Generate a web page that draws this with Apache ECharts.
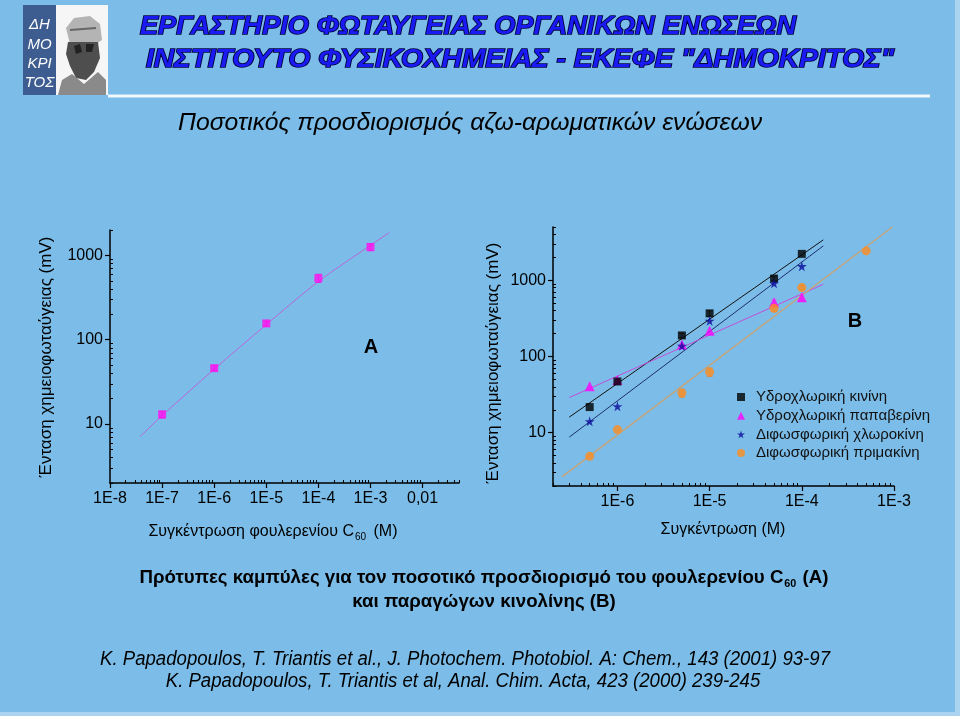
<!DOCTYPE html>
<html><head><meta charset="utf-8">
<script src="https://cdn.jsdelivr.net/npm/echarts@6/dist/echarts.min.js"></script>
<style>html,body{margin:0;padding:0;background:#7bbde8}#c{width:960px;height:716px}</style>
</head><body><div id="c"></div>
<script>
// ---------- DATA ----------
// Chart A : C60 calibration
const concA = [1e-7, 1e-6, 1e-5, 1e-4, 1e-3];
const signalA = [13, 46, 156, 537, 1255];
const errA = [1.2, 3, 10, 60, 120];
const fitAx = [3.8e-8, 1e-7, 1e-6, 1e-5, 1e-4, 1e-3, 2.3e-3];
const fitAy = [7.1, 12.6, 44.7, 151, 490, 1318, 1862];
const xTicksA = [1e-8, 1e-7, 1e-6, 1e-5, 1e-4, 1e-3, 1e-2];
const xLabelsA = ['1E-8', '1E-7', '1E-6', '1E-5', '1E-4', '1E-3', '0,01'];
const yTicksA = [10, 100, 1000];
const yLabelsA = ['10', '100', '1000'];

// Chart B : quinoline derivatives
const concB = [5e-7, 1e-6, 5e-6, 1e-5, 5e-5, 1e-4];
const quinine = [21.7, 47, 189, 368, 1053, 2220];
const papaverine = [40.6, 49, 144, 217, 514, 597];
const chloroquine = [14.1, 22.2, 138, 294, 913, 1528];
const concPrim = [5e-7, 1e-6, 5e-6, 1e-5, 5e-5, 1e-4, 5e-4];
const primaquine = [4.9, 11.0, 33.2, 62.6, 428, 802, 2430];
const errQuinine = [0, 0, 12, 30, 70, 0];
const errPapaverine = [0, 0, 0, 0, 40, 60];
const errPrim = [0, 0, 4, 8, 40, 50, 0];
const fitQx = [3e-7, 1.71e-4], fitQy = [16, 3390];
const fitCx = [3e-7, 1.71e-4], fitCy = [8.75, 2826];
const fitPx = [3e-7, 1.71e-4], fitPy = [28.9, 885];
const fitMx = [2.5e-7, 9.6e-4], fitMy = [2.64, 5000];
const xTicksB = [1e-6, 1e-5, 1e-4, 1e-3];
const xLabelsB = ['1E-6', '1E-5', '1E-4', '1E-3'];
const yTicksB = [10, 100, 1000];
const yLabelsB = ['10', '100', '1000'];
const namesB = ['Υδροχλωρική κινίνη', 'Υδροχλωρική παπαβερίνη', 'Διφωσφωρική χλωροκίνη', 'Διφωσφωρική πριμακίνη'];

// ---------- HELPERS ----------
const FONT = '"Liberation Sans", Arial, sans-serif';
const STAR = 'path://M50,0 L61,35 L98,35 L68,57 L79,91 L50,70 L21,91 L32,57 L2,35 L39,35 Z';
const measCtx = document.createElement('canvas').getContext('2d');
function squeeze(text, weight, style, size, target) {
  measCtx.font = style + ' ' + weight + ' ' + size + 'px ' + FONT;
  return target / measCtx.measureText(text).width;
}
function minorTicks(minExp, maxVal) {
  const out = [];
  for (let e = minExp; e < 5; e++) for (let m = 2; m <= 9; m++) {
    const v = m * Math.pow(10, e);
    if (v > maxVal * 1.0001) return out;
    out.push(v);
  }
  return out;
}
function fmt(ticks, labels) {
  return function (v) {
    for (let i = 0; i < ticks.length; i++) if (Math.abs(Math.log10(ticks[i]) - Math.log10(v)) < 1e-6) return labels[i];
    return '';
  };
}
function pairs(xs, ys) { return xs.map((x, i) => [x, ys[i]]); }
function errData(xs, ys, es) { return xs.map((x, i) => [x, ys[i] - es[i], ys[i] + es[i]]).filter((d, i) => es[i] > 0); }
function errRender(color) {
  return function (params, api) {
    const x = api.value(0);
    const p1 = api.coord([x, api.value(1)]), p2 = api.coord([x, api.value(2)]);
    const w = 3;
    const st = { stroke: color, lineWidth: 1 };
    return { type: 'group', children: [
      { type: 'line', shape: { x1: p1[0], y1: p1[1], x2: p2[0], y2: p2[1] }, style: st },
      { type: 'line', shape: { x1: p1[0] - w, y1: p1[1], x2: p1[0] + w, y2: p1[1] }, style: st },
      { type: 'line', shape: { x1: p2[0] - w, y1: p2[1], x2: p2[0] + w, y2: p2[1] }, style: st }
    ] };
  };
}
function majorAxis(gridIndex, min, max, ticks, labels, isX) {
  return {
    type: 'log', gridIndex: gridIndex, min: min, max: max, logBase: 10,
    position: isX ? 'bottom' : 'left',
    axisLine: { show: true, lineStyle: { color: '#000', width: 1.5 } },
    axisTick: { show: true, inside: false, length: 5, customValues: ticks, lineStyle: { color: '#000', width: 1.2 } },
    axisLabel: { show: true, customValues: ticks, formatter: fmt(ticks, labels), color: '#000',
      fontSize: 16, fontFamily: FONT, margin: isX ? 8 : 7 },
    splitLine: { show: false }, minorTick: { show: false }
  };
}
function minorAxis(gridIndex, min, max, ticks, isX) {
  return {
    type: 'log', gridIndex: gridIndex, min: min, max: max, logBase: 10,
    position: isX ? 'bottom' : 'left',
    axisLine: { show: false },
    axisTick: { show: true, inside: true, length: 3, customValues: ticks, lineStyle: { color: '#000', width: 1 } },
    axisLabel: { show: false }, splitLine: { show: false }
  };
}

// ---------- TEXT ----------
const t1 = 'ΕΡΓΑΣΤΗΡΙΟ ΦΩΤΑΥΓΕΙΑΣ ΟΡΓΑΝΙΚΩΝ ΕΝΩΣΕΩΝ';
const t2 = 'ΙΝΣΤΙΤΟΥΤΟ ΦΥΣΙΚΟΧΗΜΕΙΑΣ - ΕΚΕΦΕ "ΔΗΜΟΚΡΙΤΟΣ"';
const sub = 'Ποσοτικός προσδιορισμός αζω-αρωματικών ενώσεων';
const cap1a = 'Πρότυπες καμπύλες για τον ποσοτικό προσδιορισμό του φουλερενίου C';
const cap1b = ' (A)';
const cap2 = 'και παραγώγων κινολίνης (B)';
const ref1 = 'K. Papadopoulos, T. Triantis et al., J. Photochem. Photobiol. A: Chem., 143 (2001) 93-97';
const ref2 = 'K. Papadopoulos, T. Triantis et al, Anal. Chim. Acta, 423 (2000) 239-245';
const yTitle = 'Ένταση χημειοφωταύγειας (mV)';

const FS_T = 25, FS_SUB = 24, FS_CAP = 19, FS_REF = 19.5;
const sxT1 = squeeze(t1, 'bold', 'italic', FS_T, 656);
const sxT2 = squeeze(t2, 'bold', 'italic', FS_T, 748);
const sxSub = squeeze(sub, 'normal', 'italic', FS_SUB, 584);
const sxCap = squeeze(cap1a + cap1b, 'bold', 'normal', FS_CAP, 675);
const sxRef = squeeze(ref1, 'normal', 'italic', FS_REF, 730);

const titleStyle = (txt) => ({ text: txt, fontSize: FS_T, fontFamily: FONT, fontWeight: 'bold', fontStyle: 'italic',
  fill: '#1a1af2', stroke: '#00003a', lineWidth: 1.6, textShadowColor: '#00001a', textShadowOffsetX: 2, textShadowOffsetY: 2, textShadowBlur: 0,
  verticalAlign: 'middle', align: 'left' });

const logoText = (txt, y) => ({ type: 'text', x: 39.5, y: y, style: { text: txt, fill: '#fff', fontSize: 15, fontFamily: FONT, fontStyle: 'italic', align: 'center', verticalAlign: 'middle' } });

const graphics = [
  // logo
  { type: 'rect', shape: { x: 23, y: 5, width: 33, height: 90 }, style: { fill: '#3d5d90' } },
  { type: 'rect', shape: { x: 56, y: 5, width: 52, height: 90 }, style: { fill: '#f6f6f6' } },
  { type: 'polygon', shape: { points: [[66, 28], [74, 18], [90, 16], [100, 24], [102, 40], [96, 44], [70, 44]] }, style: { fill: '#b4b4b4' } },
  { type: 'polygon', shape: { points: [[68, 42], [98, 42], [100, 58], [94, 72], [86, 80], [76, 78], [70, 66], [66, 54]] }, style: { fill: '#4e4e4e' } },
  { type: 'polygon', shape: { points: [[58, 95], [62, 80], [72, 74], [84, 84], [98, 72], [106, 80], [106, 95]] }, style: { fill: '#8a8a8a' } },
  { type: 'polygon', shape: { points: [[74, 46], [80, 44], [82, 52], [76, 54]] }, style: { fill: '#222' } },
  { type: 'polygon', shape: { points: [[86, 44], [94, 44], [92, 52], [86, 52]] }, style: { fill: '#222' } },
  { type: 'line', shape: { x1: 70, y1: 30, x2: 96, y2: 28 }, style: { stroke: '#666', lineWidth: 2 } },
  logoText('ΔΗ', 25), logoText('ΜΟ', 45), logoText('ΚΡΙ', 64), logoText('ΤΟΣ', 83),
  // header
  { type: 'text', x: 140, y: 27, scaleX: sxT1, style: titleStyle(t1) },
  { type: 'text', x: 146, y: 60, scaleX: sxT2, style: titleStyle(t2) },
  { type: 'line', shape: { x1: 108, y1: 96, x2: 930, y2: 96 }, style: { stroke: '#f3f7fb', lineWidth: 3 } },
  { type: 'text', x: 470, y: 123, scaleX: sxSub, style: { text: sub, fontSize: FS_SUB, fontFamily: FONT, fontStyle: 'italic', fill: '#000', align: 'center', verticalAlign: 'middle' } },
  // axis titles
  { type: 'text', x: 46, y: 357, rotation: Math.PI / 2, style: { text: yTitle, fontSize: 17, fontFamily: FONT, fill: '#000', align: 'center', verticalAlign: 'middle' } },
  { type: 'text', x: 493, y: 363, rotation: Math.PI / 2, style: { text: yTitle, fontSize: 17, fontFamily: FONT, fill: '#000', align: 'center', verticalAlign: 'middle' } },
  { type: 'text', x: 273, y: 532, style: { text: '{a|Συγκέντρωση φουλερενίου C}{s|60}{a| (M)}', align: 'center', verticalAlign: 'middle',
      rich: { a: { fontSize: 16, fontFamily: FONT, fill: '#000', lineHeight: 20 }, s: { fontSize: 10, fontFamily: FONT, fill: '#000', lineHeight: 10, verticalAlign: 'bottom', padding: [8, 3, 0, 1] } } } },
  { type: 'text', x: 723, y: 530, style: { text: 'Συγκέντρωση (M)', fontSize: 16, fontFamily: FONT, fill: '#000', align: 'center', verticalAlign: 'middle' } },
  { type: 'text', x: 371, y: 347, style: { text: 'A', fontSize: 20, fontWeight: 'bold', fontFamily: FONT, fill: '#000', align: 'center', verticalAlign: 'middle' } },
  { type: 'text', x: 855, y: 321, style: { text: 'B', fontSize: 20, fontWeight: 'bold', fontFamily: FONT, fill: '#000', align: 'center', verticalAlign: 'middle' } },
  // captions
  { type: 'text', x: 484, y: 578, scaleX: sxCap, style: { text: '{a|' + cap1a + '}{s|60}{a|' + cap1b + '}', align: 'center', verticalAlign: 'middle',
      rich: { a: { fontSize: FS_CAP, fontFamily: FONT, fontWeight: 'bold', fill: '#000', lineHeight: 22 }, s: { fontSize: 11, fontFamily: FONT, fontWeight: 'bold', fill: '#000', lineHeight: 11, verticalAlign: 'bottom', padding: [7, 1, 0, 1] } } } },
  { type: 'text', x: 484, y: 602, scaleX: sxCap, style: { text: cap2, fontSize: FS_CAP, fontFamily: FONT, fontWeight: 'bold', fill: '#000', align: 'center', verticalAlign: 'middle' } },
  { type: 'text', x: 465, y: 660, scaleX: sxRef, style: { text: ref1, fontSize: FS_REF, fontFamily: FONT, fontStyle: 'italic', fill: '#000', align: 'center', verticalAlign: 'middle' } },
  { type: 'text', x: 463, y: 682, scaleX: sxRef, style: { text: ref2, fontSize: FS_REF, fontFamily: FONT, fontStyle: 'italic', fill: '#000', align: 'center', verticalAlign: 'middle' } },
  // light borders
  { type: 'rect', shape: { x: 955, y: 0, width: 5, height: 716 }, style: { fill: '#a9d3ef' } },
  { type: 'rect', shape: { x: 0, y: 712, width: 960, height: 4 }, style: { fill: '#a9d3ef' } }
];

// ---------- CHART ----------
const chart = echarts.init(document.getElementById('c'), null, { renderer: 'canvas' });
const colQ = '#000000', colP = '#ff00ff', colC = '#0a0a9c', colM = '#ff8c1e';
const option = {
  backgroundColor: '#7bbde8',
  animation: false,
  grid: [
    { left: 110, top: 230, width: 349, height: 253, containLabel: false },
    { left: 553, top: 227, width: 341, height: 259, containLabel: false }
  ],
  xAxis: [
    majorAxis(0, 1e-8, 0.05, xTicksA, xLabelsA, true),
    minorAxis(0, 1e-8, 0.05, minorTicks(-8, 0.05), true),
    majorAxis(1, 2e-7, 1e-3, xTicksB, xLabelsB, true),
    minorAxis(1, 2e-7, 1e-3, minorTicks(-7, 1e-3), true)
  ],
  yAxis: [
    majorAxis(0, 2, 2000, yTicksA, yLabelsA, false),
    minorAxis(0, 2, 2000, minorTicks(0, 2000), false),
    majorAxis(1, 2, 5000, yTicksB, yLabelsB, false),
    minorAxis(1, 2, 5000, minorTicks(0, 5000), false)
  ],
  legend: {
    left: 732, top: 384, orient: 'vertical', itemGap: 2.7, itemWidth: 8, itemHeight: 8,
    textStyle: { fontSize: 15, fontFamily: FONT, color: '#111', lineHeight: 16, padding: [0, 0, 0, 6] },
    data: [
      { name: namesB[0], icon: 'rect', itemStyle: { color: colQ } },
      { name: namesB[1], icon: 'triangle', itemStyle: { color: colP } },
      { name: namesB[2], icon: STAR, itemStyle: { color: colC } },
      { name: namesB[3], icon: 'circle', itemStyle: { color: colM } }
    ]
  },
  series: [
    // ---- A ----
    { name: 'fitA', type: 'line', xAxisIndex: 0, yAxisIndex: 0, data: pairs(fitAx, fitAy), smooth: 0.3, showSymbol: false,
      lineStyle: { color: '#b866d8', width: 1 }, z: 2 },
    { name: 'errA', type: 'custom', xAxisIndex: 0, yAxisIndex: 0, data: errData(concA, signalA, errA), renderItem: errRender('#e030e0'), z: 3 },
    { name: 'C60', type: 'scatter', xAxisIndex: 0, yAxisIndex: 0, data: pairs(concA, signalA), symbol: 'rect', symbolSize: 8,
      itemStyle: { color: '#ff10f0' }, z: 4 },
    // ---- B fits ----
    { name: 'fitQ', type: 'line', xAxisIndex: 2, yAxisIndex: 2, data: pairs(fitQx, fitQy), showSymbol: false, lineStyle: { color: '#111', width: 1 }, z: 2 },
    { name: 'fitC', type: 'line', xAxisIndex: 2, yAxisIndex: 2, data: pairs(fitCx, fitCy), showSymbol: false, lineStyle: { color: '#1c2f6e', width: 1 }, z: 2 },
    { name: 'fitP', type: 'line', xAxisIndex: 2, yAxisIndex: 2, data: pairs(fitPx, fitPy), showSymbol: false, lineStyle: { color: '#c24fd8', width: 1 }, z: 2 },
    { name: 'fitM', type: 'line', xAxisIndex: 2, yAxisIndex: 2, data: pairs(fitMx, fitMy), showSymbol: false, lineStyle: { color: '#c4a47c', width: 1.5 }, z: 2 },
    // ---- B error bars ----
    { name: 'errQ', type: 'custom', xAxisIndex: 2, yAxisIndex: 2, data: errData(concB, quinine, errQuinine), renderItem: errRender('#555'), z: 3 },
    { name: 'errP', type: 'custom', xAxisIndex: 2, yAxisIndex: 2, data: errData(concB, papaverine, errPapaverine), renderItem: errRender('#c080d8'), z: 3 },
    { name: 'errM', type: 'custom', xAxisIndex: 2, yAxisIndex: 2, data: errData(concPrim, primaquine, errPrim), renderItem: errRender('#d09050'), z: 3 },
    // ---- B points ----
    { name: namesB[0], type: 'scatter', xAxisIndex: 2, yAxisIndex: 2, data: pairs(concB, quinine), symbol: 'rect', symbolSize: 8, itemStyle: { color: colQ }, z: 5 },
    { name: namesB[1], type: 'scatter', xAxisIndex: 2, yAxisIndex: 2, data: pairs(concB, papaverine), symbol: 'triangle', symbolSize: 10, itemStyle: { color: colP }, z: 4 },
    { name: namesB[2], type: 'scatter', xAxisIndex: 2, yAxisIndex: 2, data: pairs(concB, chloroquine), symbol: STAR, symbolSize: 10, itemStyle: { color: colC }, z: 6 },
    { name: namesB[3], type: 'scatter', xAxisIndex: 2, yAxisIndex: 2, data: pairs(concPrim, primaquine), symbol: 'circle', symbolSize: 9, itemStyle: { color: colM }, z: 4 }
  ],
  graphic: { elements: graphics }
};
chart.setOption(option);
</script>
</body></html>
